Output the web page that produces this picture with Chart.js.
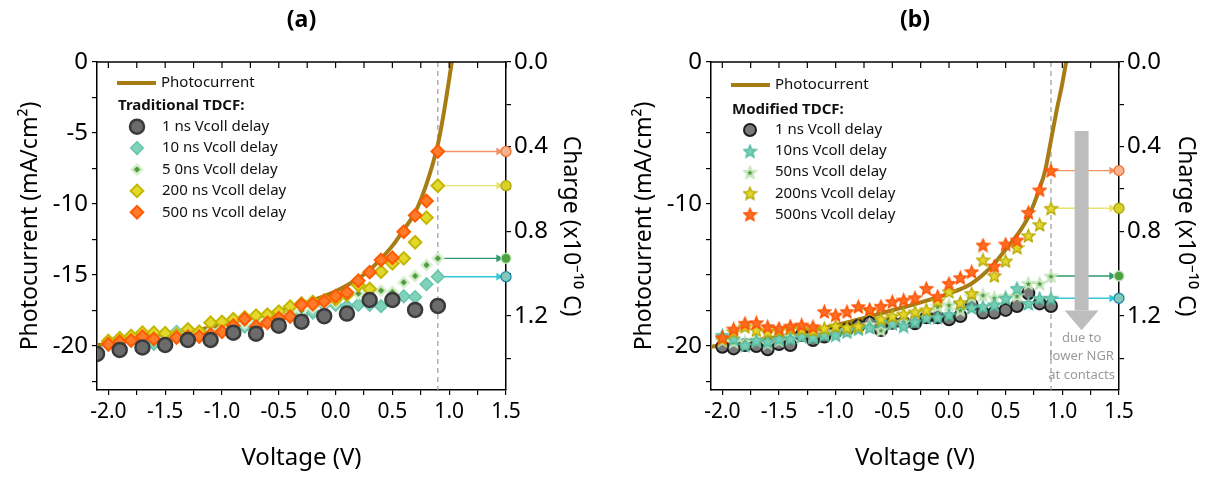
<!DOCTYPE html>
<html>
<head>
<meta charset="utf-8">
<script src="https://cdn.jsdelivr.net/npm/chart.js@4.4.1/dist/chart.umd.min.js"></script>
<style>
  html, body { margin: 0; padding: 0; background: #fff; }
  #wrap { position: relative; width: 1210px; height: 479px; overflow: hidden; }
  #chartA { position: absolute; left: 0; top: 0; }
  #chartB { position: absolute; left: 614px; top: 0; }
</style>
</head>
<body>
<div id="wrap">
  <canvas id="chartA" width="605" height="479"></canvas>
  <canvas id="chartB" width="596" height="479"></canvas>
</div>
<script>
// ---- data ----
// panel (a) traditional TDCF
const voltA = [-2.0,-1.9,-1.8,-1.7,-1.6,-1.5,-1.4,-1.3,-1.2,-1.1,-1.0,-0.9,-0.8,-0.7,-0.6,-0.5,-0.4,-0.3,-0.2,-0.1,0.0,0.1,0.2,0.3,0.4,0.5,0.6,0.7,0.8,0.9];
const volt1nsA = [-2.1,-1.9,-1.7,-1.5,-1.3,-1.1,-0.9,-0.7,-0.5,-0.3,-0.1,0.1,0.3,0.5,0.7,0.9];
const cur1nsA = [-20.56,-20.28,-20.1,-19.93,-19.58,-19.58,-19.06,-19.13,-18.57,-18.29,-17.9,-17.72,-16.76,-16.76,-17.46,-17.18];
const cur10nsA = [-19.9,-19.7,-19.6,-19.5,-19.86,-19.7,-19.0,-19.3,-19.1,-19.0,-18.9,-18.7,-18.64,-18.4,-18.3,-18.1,-17.65,-17.8,-17.65,-17.1,-17.1,-17.2,-17.1,-17.1,-17.2,-16.8,-16.5,-16.55,-15.65,-15.12];
const cur50nsA = [-19.8,-19.6,-19.5,-19.3,-19.4,-19.5,-19.1,-19.2,-19.1,-19.0,-18.8,-18.5,-18.4,-18.3,-18.1,-17.9,-17.6,-17.5,-17.3,-17.0,-16.9,-16.3,-16.3,-16.2,-16.1,-16.2,-15.52,-15.07,-14.3,-13.83];
const cur200nsA = [-19.65,-19.46,-19.3,-19.06,-19.06,-19.1,-19.2,-18.83,-19.0,-18.36,-18.3,-18.12,-18.0,-17.86,-17.8,-17.58,-17.23,-17.0,-16.9,-16.8,-16.7,-16.4,-15.7,-15.99,-14.77,-14.18,-13.83,-12.7,-10.96,-8.71];
const cur500nsA = [-19.88,-19.7,-19.62,-19.34,-19.5,-19.95,-19.4,-19.35,-19.34,-19.2,-19.0,-18.57,-18.1,-18.64,-18.36,-18.05,-17.93,-17.1,-17.04,-16.85,-16.5,-16.24,-15.4,-14.8,-13.94,-13.78,-11.95,-10.8,-9.79,-6.3];
const photoVoltA = [-2.1,-1.8,-1.5,-1.2,-0.9,-0.6,-0.3,0.0,0.2,0.3,0.4,0.5,0.6,0.7,0.8,0.9,0.95,1.0,1.03];
const photoCurA = [-19.95,-19.6,-19.25,-18.85,-18.35,-17.75,-17.05,-16.15,-15.25,-14.65,-13.85,-12.95,-11.8,-10.6,-8.6,-5.8,-3.7,-1.2,0.4];

// panel (b) modified TDCF
const voltB = [-2.0,-1.9,-1.8,-1.7,-1.6,-1.5,-1.4,-1.3,-1.2,-1.1,-1.0,-0.9,-0.8,-0.7,-0.6,-0.5,-0.4,-0.3,-0.2,-0.1,0.0,0.1,0.2,0.3,0.4,0.5,0.6,0.7,0.8,0.9];
const cur1nsB = [-20.05,-20.17,-19.93,-20.0,-20.23,-19.86,-19.93,-19.23,-19.58,-19.34,-19.0,-18.83,-18.6,-18.36,-18.87,-18.36,-18.36,-18.4,-17.98,-17.98,-18.12,-17.89,-17.11,-17.65,-17.65,-17.46,-17.18,-16.29,-17.0,-17.18];
const cur10nsB = [-19.25,-19.5,-19.95,-19.6,-19.7,-19.5,-19.5,-19.3,-19.4,-19.23,-19.23,-19.0,-18.8,-18.7,-18.3,-18.4,-18.6,-18.3,-18.0,-17.98,-17.8,-17.0,-17.3,-17.23,-17.1,-16.64,-15.94,-17.0,-16.64,-16.64];
const cur50nsB = [-19.6,-19.7,-19.7,-19.6,-19.8,-19.6,-19.34,-19.3,-19.3,-19.1,-19.0,-18.9,-18.7,-18.5,-18.87,-18.4,-18.3,-17.7,-17.58,-17.2,-17.1,-17.46,-16.5,-16.4,-16.6,-16.5,-16.46,-15.59,-15.59,-15.07];
const cur200nsB = [-19.5,-19.0,-18.64,-18.87,-19.0,-18.9,-18.75,-18.8,-18.9,-18.75,-18.6,-18.7,-18.6,-17.5,-18.1,-17.9,-17.75,-17.6,-17.46,-16.83,-16.17,-16.95,-16.3,-13.94,-15.05,-14.01,-13.07,-12.23,-11.45,-10.3];
const cur500nsB = [-19.41,-18.8,-18.4,-18.36,-18.64,-18.75,-18.6,-18.52,-18.64,-17.58,-17.82,-17.58,-17.23,-17.42,-17.2,-16.88,-16.76,-16.6,-15.94,-16.5,-15.59,-15.19,-14.77,-12.89,-14.37,-12.82,-12.54,-10.59,-9.01,-7.65];
const photoVoltB = [-2.1,-1.8,-1.5,-1.2,-0.9,-0.6,-0.3,0.0,0.2,0.4,0.5,0.6,0.7,0.8,0.85,0.9,0.95,1.0,1.04];
const photoCurB = [-20.05,-19.7,-19.35,-18.9,-18.35,-17.7,-17.05,-16.3,-15.6,-14.2,-13.2,-12.2,-10.9,-8.9,-7.6,-5.5,-3.4,-1.5,0.3];

// axes
const voltRange = [-2.1, 1.5];
const currentRange = [-23.1, 0];
const chargeRange = [0, 1.55];
const probeVolt = 0.9;
const xTickVals = [-2.0,-1.75,-1.5,-1.25,-1.0,-0.75,-0.5,-0.25,0.0,0.25,0.5,0.75,1.0,1.25,1.5];
const yTickVals = [0,-2.5,-5,-7.5,-10,-12.5,-15,-17.5,-20,-22.5];
const chargeTickVals = [0,0.2,0.4,0.6,0.8,1.0,1.2,1.4];
const labelsA = ['1 ns Vcoll delay','10 ns Vcoll delay','5 0ns Vcoll delay','200 ns Vcoll delay','500 ns Vcoll delay'];
const labelsB = ['1 ns Vcoll delay','10ns Vcoll delay','50ns Vcoll delay','200ns Vcoll delay','500ns Vcoll delay'];
const noteLines = ['due to', 'lower NGR', 'at contacts'];

const FONT = "'Noto Sans', 'DejaVu Sans', sans-serif";
const PHOTO_COLOR = '#a87c14';

const pts = (xs, ys) => xs.map((x, i) => ({ x: x, y: ys[i] }));

// marker images
function starImg(fill, stroke, inner) {
  const s = 15, c = document.createElement('canvas');
  c.width = s; c.height = s;
  const g = c.getContext('2d');
  const star = (R, r) => {
    g.beginPath();
    for (let i = 0; i < 10; i++) {
      const a = -Math.PI / 2 + i * Math.PI / 5, rr = i % 2 ? r : R;
      g.lineTo(s / 2 + rr * Math.cos(a), s / 2 + 0.6 + rr * Math.sin(a));
    }
    g.closePath();
  };
  star(6.7, 3.0);
  g.fillStyle = fill; g.fill();
  g.lineWidth = 1.3; g.strokeStyle = stroke; g.stroke();
  if (inner) { star(3.2, 1.4); g.fillStyle = inner; g.fill(); }
  return c;
}
function diamondImg(fill, inner) {
  const s = 15, c = document.createElement('canvas');
  c.width = s; c.height = s;
  const g = c.getContext('2d');
  const dia = (r) => { g.beginPath(); g.moveTo(s/2, s/2 - r); g.lineTo(s/2 + r, s/2); g.lineTo(s/2, s/2 + r); g.lineTo(s/2 - r, s/2); g.closePath(); };
  dia(6.8); g.fillStyle = fill; g.fill();
  dia(3.2); g.fillStyle = inner; g.fill();
  return c;
}

const styleA = [
  { pointStyle: 'circle', radius: 7, bg: '#6b6b6b', border: '#3a3a3a', bw: 2.5 },
  { pointStyle: 'rectRot', radius: 6.3, bg: '#7fd3bb', border: '#66c4a9', bw: 1.5 },
  { pointStyle: diamondImg('#d8efcf', '#4e9a3a'), radius: 6 },
  { pointStyle: 'rectRot', radius: 6.3, bg: '#e2d82e', border: '#c4b700', bw: 2 },
  { pointStyle: 'rectRot', radius: 6.3, bg: '#ff7b2c', border: '#ff5a00', bw: 2 }
];
const styleB = [
  { pointStyle: 'circle', radius: 6, bg: '#7a7a7a', border: '#1e1e1e', bw: 2 },
  { pointStyle: starImg('#74cfb6', '#52b99e'), radius: 7 },
  { pointStyle: starImg('#dcf0d4', '#c2e3b8', '#4a9a3a'), radius: 7 },
  { pointStyle: starImg('#e4d62c', '#b5a800'), radius: 7 },
  { pointStyle: starImg('#ff6e22', '#ff5000'), radius: 7 }
];
// arrows: line colour, end fill, end edge
const arrowStyleA = [
  { line: '#f49264', fill: '#f9b38c', edge: '#f0702e' },
  { line: '#e9e26c', fill: '#d9d12a', edge: '#aea500' },
  { line: '#2f9b6e', fill: '#4fa040', edge: '#bfe4b4' },
  { line: '#33c8d6', fill: '#82c9b9', edge: '#1f88aa' }
];
const arrowStyleB = arrowStyleA;

function buildDatasets(panel) {
  const ds = [];
  const series = panel.series;
  series.forEach((s, i) => {
    const st = panel.styles[i];
    ds.push({
      label: panel.labels[i], data: pts(s.v, s.c), showLine: false,
      pointStyle: st.pointStyle, pointRadius: st.radius,
      pointBackgroundColor: st.bg || '#000', pointBorderColor: st.border || '#000', pointBorderWidth: st.bw || 0,
      order: panel.orders[i]
    });
  });
  ds.push({
    label: 'Photocurrent', data: pts(panel.photoV, panel.photoC), showLine: true,
    borderColor: PHOTO_COLOR, borderWidth: 4, pointRadius: 0, cubicInterpolationMode: 'monotone', order: 10
  });
  ds.push({
    label: 'probe', data: [{ x: probeVolt, y: currentRange[1] }, { x: probeVolt, y: currentRange[0] }], showLine: true,
    borderColor: '#9a9a9a', borderWidth: 1.2, borderDash: [5, 4], pointRadius: 0, order: 12
  });
  // arrows from the series value at the probe voltage to the charge axis
  [4, 3, 2, 1].forEach((si, k) => {
    const a = panel.arrows[k];
    const yv = series[si].c[series[si].c.length - 1];
    const xe = voltRange[1];
    ds.push({
      label: 'arrow' + k,
      data: [{ x: probeVolt, y: yv }, { x: xe - 0.065, y: yv }, { x: xe, y: yv }], showLine: true,
      borderColor: a.line, borderWidth: 1.4,
      pointStyle: ['circle', 'triangle', 'circle'], pointRadius: [0, 4.5, 5], rotation: [0, 90, 0],
      pointBackgroundColor: [a.line, a.line, a.fill], pointBorderColor: [a.line, a.line, a.edge],
      pointBorderWidth: [0, 0, 1.3], order: 11, clip: false
    });
  });
  return ds;
}

function drawMarker(ctx, st, x, y) {
  if (typeof st.pointStyle !== 'string') {
    const im = st.pointStyle;
    ctx.drawImage(im, x - im.width / 2, y - im.height / 2);
    return;
  }
  ctx.beginPath();
  if (st.pointStyle === 'circle') {
    ctx.arc(x, y, st.radius, 0, Math.PI * 2);
  } else {
    const r = st.radius;
    ctx.moveTo(x, y - r); ctx.lineTo(x + r, y); ctx.lineTo(x, y + r); ctx.lineTo(x - r, y); ctx.closePath();
  }
  ctx.fillStyle = st.bg; ctx.fill();
  ctx.lineWidth = st.bw; ctx.strokeStyle = st.border; ctx.stroke();
}

function decorPlugin(panel) {
  return {
    id: 'decor',
    afterDraw(chart) {
      const { ctx, chartArea: ca, scales } = chart;
      const x = scales.x, y = scales.y;
      ctx.save();
      // top frame with inward ticks
      ctx.strokeStyle = '#000';
      ctx.lineWidth = 1.5;
      ctx.beginPath(); ctx.moveTo(ca.left, ca.top); ctx.lineTo(ca.right, ca.top); ctx.stroke();
      ctx.lineWidth = 1.2;
      xTickVals.forEach(v => {
        const px = x.getPixelForValue(v);
        ctx.beginPath(); ctx.moveTo(px, ca.top); ctx.lineTo(px, ca.top + 6); ctx.stroke();
      });
      // panel title
      ctx.fillStyle = '#000';
      ctx.font = 'bold 23px ' + FONT;
      ctx.textAlign = 'center'; ctx.textBaseline = 'middle';
      ctx.fillText(panel.title, (ca.left + ca.right) / 2, 20);
      // legend
      const L = panel.legend;
      ctx.strokeStyle = PHOTO_COLOR; ctx.lineWidth = 4;
      ctx.beginPath(); ctx.moveTo(ca.left + 20, ca.top + L.photo); ctx.lineTo(ca.left + 59, ca.top + L.photo); ctx.stroke();
      ctx.textAlign = 'left';
      ctx.fillStyle = '#111';
      ctx.font = '15px ' + FONT;
      ctx.fillText('Photocurrent', ca.left + 64, ca.top + L.photo);
      ctx.font = 'bold 15px ' + FONT;
      ctx.fillText(panel.header, ca.left + 21, ca.top + L.header);
      ctx.font = '15px ' + FONT;
      panel.labels.forEach((lab, i) => {
        const yy = ca.top + L.row0 + i * L.step;
        drawMarker(ctx, panel.styles[i], ca.left + L.mx, yy);
        ctx.fillStyle = '#111';
        ctx.fillText(lab, ca.left + L.mx + 25, yy);
      });
      // big grey arrow with note (panel b)
      if (panel.note) {
        const ax = x.getPixelForValue(panel.note.volt);
        const y0 = y.getPixelForValue(panel.note.from);
        const y1 = y.getPixelForValue(panel.note.head);
        const y2 = y.getPixelForValue(panel.note.tip);
        ctx.fillStyle = '#bdbdbd';
        ctx.fillRect(ax - 7, y0, 14, y1 - y0);
        ctx.beginPath(); ctx.moveTo(ax - 17, y1); ctx.lineTo(ax + 17, y1); ctx.lineTo(ax, y2); ctx.closePath(); ctx.fill();
        ctx.fillStyle = '#9b9b9b';
        ctx.font = '13px ' + FONT;
        ctx.textAlign = 'center';
        noteLines.forEach((t, i) => ctx.fillText(t, ax, y2 + 8 + i * 18.3));
      }
      ctx.restore();
    }
  };
}

function makeChart(canvasId, panel) {
  const W = document.getElementById(canvasId).width;
  const tickGrid = { drawOnChartArea: false, drawTicks: true, tickLength: 5, color: '#000', lineWidth: 1.2 };
  const border = { display: true, color: '#000', width: 1.5 };
  return new Chart(document.getElementById(canvasId), {
    type: 'scatter',
    data: { datasets: buildDatasets(panel) },
    options: {
      responsive: false,
      animation: false,
      layout: { padding: { top: 62, left: 0, right: 0, bottom: 0 } },
      plugins: { legend: { display: false }, tooltip: { enabled: false } },
      scales: {
        x: {
          type: 'linear', position: 'bottom', min: voltRange[0], max: voltRange[1],
          afterBuildTicks: s => { s.ticks = xTickVals.map(v => ({ value: v })); },
          afterFit: s => { s.height = 89; },
          grid: tickGrid, border: border,
          ticks: {
            autoSkip: false, maxRotation: 0, padding: 4, color: '#000',
            font: { family: FONT, size: 21 },
            callback: v => (Math.abs(v * 2 - Math.round(v * 2)) < 1e-6 ? v.toFixed(1) : '')
          },
          title: { display: true, text: 'Voltage (V)', color: '#000', font: { family: FONT, size: 24 }, padding: { bottom: 6 } }
        },
        y: {
          type: 'linear', position: 'left', min: currentRange[0], max: currentRange[1],
          afterBuildTicks: s => { s.ticks = yTickVals.map(v => ({ value: v })); },
          afterFit: s => { s.width = 97; },
          grid: tickGrid, border: border,
          ticks: {
            autoSkip: false, padding: 4, color: '#000',
            font: { family: FONT, size: 24 },
            callback: v => (v % panel.yStep === 0 ? String(v) : '')
          },
          title: { display: true, text: 'Photocurrent (mA/cm²)', color: '#000', font: { family: FONT, size: 23 }, padding: { top: 17 } }
        },
        y2: {
          type: 'linear', position: 'right', min: chargeRange[0], max: chargeRange[1], reverse: true,
          afterBuildTicks: s => { s.ticks = chargeTickVals.map(v => ({ value: v })); },
          afterFit: s => { s.width = W - panel.plotRight; },
          grid: tickGrid, border: border,
          ticks: {
            autoSkip: false, padding: 3, color: '#000',
            font: { family: FONT, size: 24 },
            callback: v => (Math.abs(v / 0.4 - Math.round(v / 0.4)) < 1e-6 ? v.toFixed(1) : '')
          },
          title: { display: true, text: 'Charge (x10⁻¹⁰ C)', color: '#000', font: { family: FONT, size: 23 }, padding: { top: panel.rightTitlePad } }
        }
      }
    },
    plugins: [decorPlugin(panel)]
  });
}

makeChart('chartA', {
  title: '(a)', header: 'Traditional TDCF:', labels: labelsA, styles: styleA, arrows: arrowStyleA,
  series: [
    { v: volt1nsA, c: cur1nsA }, { v: voltA, c: cur10nsA }, { v: voltA, c: cur50nsA },
    { v: voltA, c: cur200nsA }, { v: voltA, c: cur500nsA }
  ],
  orders: [1, 5, 4, 3, 2],
  photoV: photoVoltA, photoC: photoCurA, yStep: 5,
  plotRight: 506, rightTitlePad: 21,
  legend: { photo: 21, header: 43.5, row0: 64.7, step: 21.4, mx: 40 }
});

makeChart('chartB', {
  title: '(b)', header: 'Modified TDCF:', labels: labelsB, styles: styleB, arrows: arrowStyleB,
  series: [
    { v: voltB, c: cur1nsB }, { v: voltB, c: cur10nsB }, { v: voltB, c: cur50nsB },
    { v: voltB, c: cur200nsB }, { v: voltB, c: cur500nsB }
  ],
  orders: [5, 3, 4, 2, 1],
  photoV: photoVoltB, photoC: photoCurB, yStep: 10,
  plotRight: 505, rightTitlePad: 11,
  legend: { photo: 23, header: 48, row0: 68, step: 21.1, mx: 39 },
  note: { volt: 1.17, from: -4.86, head: -17.5, tip: -18.9 }
});
</script>
</body>
</html>
